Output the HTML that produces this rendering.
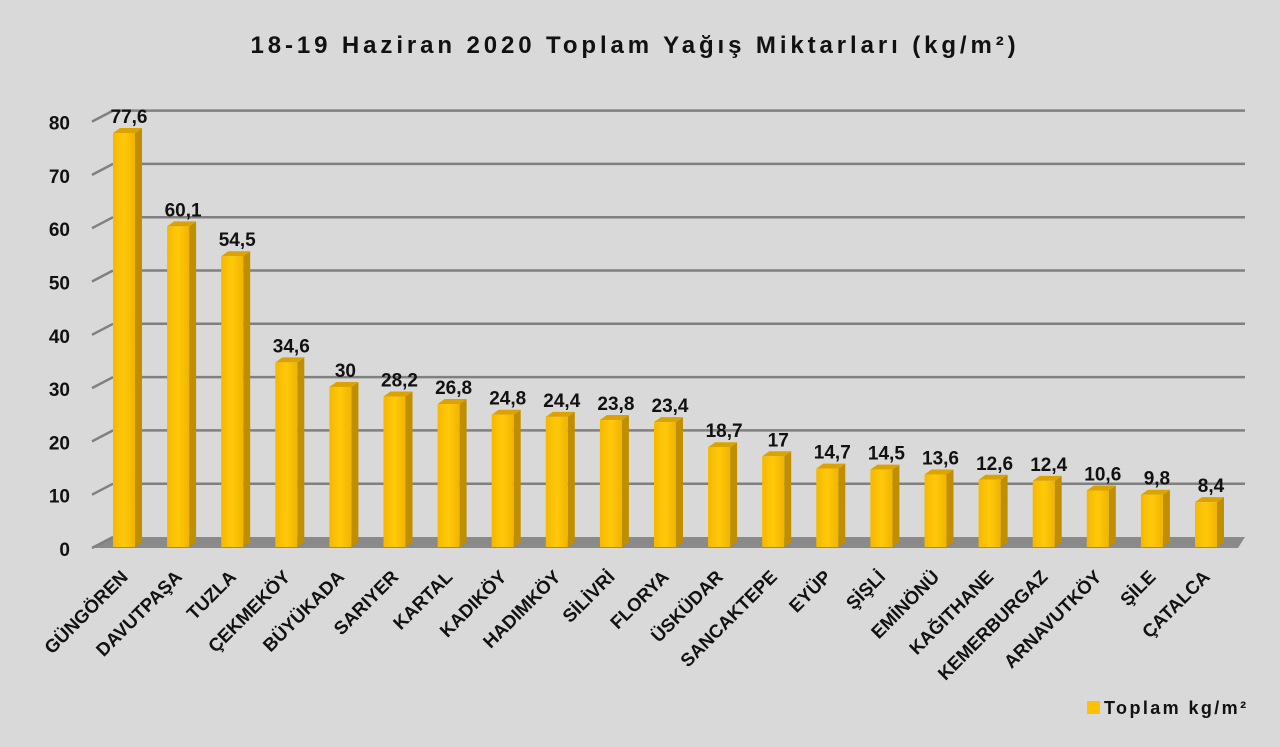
<!DOCTYPE html>
<html><head><meta charset="utf-8"><style>
html,body{margin:0;padding:0;background:#d9d9d9;}
svg text{font-family:"Liberation Sans",sans-serif;font-weight:bold;fill:#111;}
</style></head><body>
<svg width="1280" height="742" viewBox="0 0 1280 742" xmlns="http://www.w3.org/2000/svg">
<defs>
<linearGradient id="fr" x1="0" x2="1" y1="0" y2="0"><stop offset="0" stop-color="#f5b800"/><stop offset="0.5" stop-color="#ffc90a"/><stop offset="1" stop-color="#f0b400"/></linearGradient>
</defs>
<rect width="1280" height="742" fill="#d9d9d9"/>
<text x="635" y="53" font-size="24" text-anchor="middle" letter-spacing="3.9">18-19 Haziran 2020 Toplam Yağış Miktarları (kg/m²)</text>
<polygon points="92,548 113,537 1245,537 1238,548" fill="#8a8a8a"/>
<g id="grid" stroke="#808080" stroke-width="2.5" fill="none"></g>
<g id="ylab" font-size="19" text-anchor="end"></g>
<g id="bars"></g>
<g id="xl" font-size="18.5" text-anchor="end"></g>
<rect x="1087" y="701" width="13" height="13" fill="#ffc000"/>
<text x="1104" y="714" font-size="18" letter-spacing="2.4">Toplam kg/m²</text>
</svg>
<script>
const ns="http://www.w3.org/2000/svg";
function el(p,t,a,txt){const e=document.createElementNS(ns,t);for(const k in a)e.setAttribute(k,a[k]);if(txt!==undefined)e.textContent=txt;document.getElementById(p).appendChild(e);}
for(let v=0;v<=80;v+=10){const yb=537-v*5.33, yf=548-v*5.33;
 if(v>0){el('grid','line',{x1:113,y1:yb,x2:1245,y2:yb});}
 el('grid','line',{x1:92,y1:yf,x2:113,y2:yb});
 el('ylab','text',{x:70,y:yf+8},String(v));}
const d=[["GÜNGÖREN",77.6,"77,6"],["DAVUTPAŞA",60.1,"60,1"],["TUZLA",54.5,"54,5"],["ÇEKMEKÖY",34.6,"34,6"],["BÜYÜKADA",30,"30"],["SARIYER",28.2,"28,2"],["KARTAL",26.8,"26,8"],["KADIKÖY",24.8,"24,8"],["HADIMKÖY",24.4,"24,4"],["SİLİVRİ",23.8,"23,8"],["FLORYA",23.4,"23,4"],["ÜSKÜDAR",18.7,"18,7"],["SANCAKTEPE",17,"17"],["EYÜP",14.7,"14,7"],["ŞİŞLİ",14.5,"14,5"],["EMİNÖNÜ",13.6,"13,6"],["KAĞITHANE",12.6,"12,6"],["KEMERBURGAZ",12.4,"12,4"],["ARNAVUTKÖY",10.6,"10,6"],["ŞİLE",9.8,"9,8"],["ÇATALCA",8.4,"8,4"]];
d.forEach((r,i)=>{const x=113+i*54.1,w=22,dx=7,dy=5,yb=547,yt=547-r[1]*5.335,h=yb-yt;
 el('bars','polygon',{points:`${x+w},${yt} ${x+w+dx},${yt-dy} ${x+w+dx},${yb-dy} ${x+w},${yb}`,fill:"#c08f00"});
 el('bars','polygon',{points:`${x},${yt} ${x+dx},${yt-dy} ${x+w+dx},${yt-dy} ${x+w},${yt}`,fill:"#dca200"});
 el('bars','rect',{x:x,y:yt,width:w,height:h,fill:"url(#fr)"});
 el('bars','text',{x:x+w/2+5,y:yt-10,"font-size":19,"text-anchor":"middle"},r[2]);
 const cx=x+w/2+5,cy=578;
 el('xl','text',{x:cx,y:cy,transform:`rotate(-45 ${cx} ${cy})`},r[0]);
});
</script>
</body></html>
